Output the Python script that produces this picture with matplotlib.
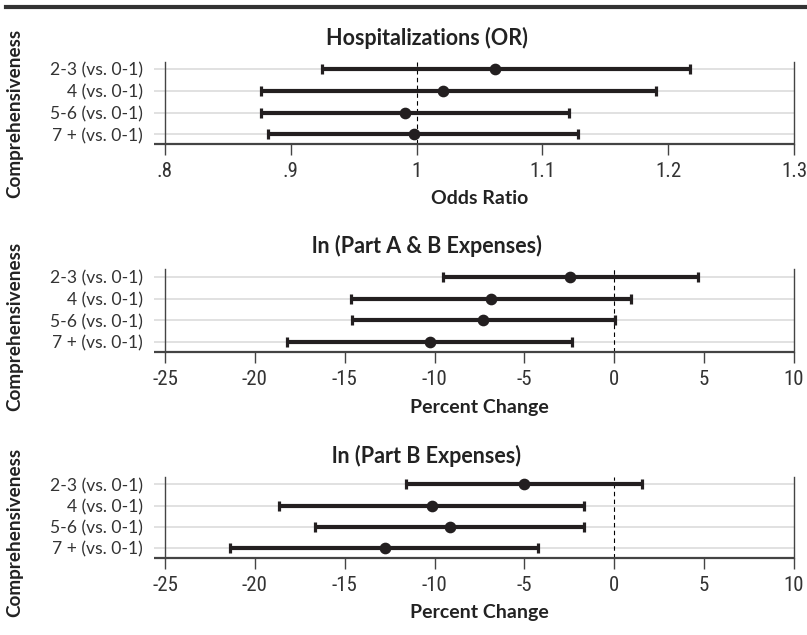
import matplotlib
matplotlib.use("Agg")
import matplotlib.pyplot as plt
from matplotlib import font_manager
from matplotlib.lines import Line2D
import numpy as np

# categories, top to bottom
categories = ["2-3 (vs. 0-1)", "4 (vs. 0-1)", "5-6 (vs. 0-1)", "7 + (vs. 0-1)"]

# Hospitalizations (odds ratio)
hosp_est = [1.062, 1.021, 0.991, 0.998]
hosp_lo = [0.925, 0.876, 0.876, 0.882]
hosp_hi = [1.217, 1.190, 1.121, 1.128]

# ln(Part A & B expenses), percent change
ab_est = [-2.45, -6.84, -7.29, -10.25]
ab_lo = [-9.53, -14.63, -14.60, -18.23]
ab_hi = [4.66, 0.95, 0.02, -2.33]

# ln(Part B expenses), percent change
b_est = [-5.00, -10.16, -9.14, -12.76]
b_lo = [-11.59, -18.64, -16.65, -21.37]
b_hi = [1.56, -1.67, -1.70, -4.23]

or_ticks = [0.8, 0.9, 1.0, 1.1, 1.2, 1.3]
or_ticklabels = [".8", ".9", "1", "1.1", "1.2", "1.3"]
pct_ticks = [-25, -20, -15, -10, -5, 0, 5, 10]
pct_ticklabels = ["-25", "-20", "-15", "-10", "-5", "0", "5", "10"]

names = {f.name for f in font_manager.fontManager.ttflist}
def pick(*cands):
    return next((c for c in cands if c in names), "DejaVu Sans")

bold_font = pick("Lato", "Open Sans", "Noto Sans")
label_font = pick("Lato", "Open Sans", "Noto Sans")
tick_font = pick("Liberation Sans Narrow", "Roboto Condensed", "Lato")

W, H = 807, 635
fig = plt.figure(figsize=(W / 100, H / 100), dpi=100)

panels = [
    # title, xlabel, est, lo, hi, ref line, ticks, ticklabels, top px, bottom px, title y, ylabel y
    ("Hospitalizations (OR)", "Odds Ratio", hosp_est, hosp_lo, hosp_hi, 1.0,
     or_ticks, or_ticklabels, 61.5, 144, 38, 113),
    ("ln (Part A & B Expenses)", "Percent Change", ab_est, ab_lo, ab_hi, 0.0,
     pct_ticks, pct_ticklabels, 269, 352, 246, 326),
    ("ln (Part B Expenses)", "Percent Change", b_est, b_lo, b_hi, 0.0,
     pct_ticks, pct_ticklabels, 477, 557.7, 455.5, 532),
]

dark = "#231f20"
axis_c = "#444444"
grid_c = "#d9d9d9"
ypos = np.arange(len(categories), 0, -1)

for (title, xlab, est, lo, hi, ref, ticks, tlabels, top, bot, ty, ly) in panels:
    h_px = bot - top
    ax = fig.add_axes([165 / W, 1 - bot / H, 629 / W, h_px / H])
    est = np.array(est); lo = np.array(lo); hi = np.array(hi)

    ax.axvline(ref, color="black", lw=0.8, ls=(0, (4, 3)), zorder=1.5)
    ax.errorbar(est, ypos, xerr=[est - lo, hi - est], fmt="o", color=dark,
                ms=7.4, elinewidth=3, capsize=3.6, capthick=2.3, zorder=3)

    ax.set_xlim(ticks[0], ticks[-1])
    ax.set_ylim(0.56, 4.35)
    ax.set_xticks(ticks)
    ax.set_xticklabels(tlabels, fontfamily=tick_font, fontsize=15, color="#333333")
    ax.set_yticks(ypos)
    ax.set_yticklabels(categories, fontfamily=label_font, fontsize=12.6, color="#333333")

    ax.grid(axis="y", color=grid_c, lw=1.1)
    ax.set_axisbelow(True)
    ax.tick_params(axis="y", length=8, width=1.1, color=grid_c, pad=8)
    ax.tick_params(axis="x", length=8, width=1.0, color=axis_c, pad=5)

    for s in ["top", "bottom"]:
        ax.spines[s].set_visible(False)
    for s in ["left", "right"]:
        ax.spines[s].set_color(axis_c)
        ax.spines[s].set_linewidth(1.0)
    ax.plot([-11 / 629, 1], [0, 0], transform=ax.transAxes, clip_on=False,
            color=axis_c, lw=1.6, solid_capstyle="butt", zorder=4)

    ax.set_xlabel(xlab, fontfamily=bold_font, fontweight="bold", fontsize=14,
                  color="#222222", va="center")
    ax.xaxis.set_label_coords(0.5, -55 / h_px)

    fig.text(427 / W, 1 - ty / H, title, ha="center", va="center",
             fontfamily=bold_font, fontweight="bold", fontsize=15.5, color="#222222")
    fig.text(15 / W, 1 - ly / H, "Comprehensiveness", rotation=90, ha="center",
             va="center", fontfamily=bold_font, fontweight="bold", fontsize=13.6,
             color="#222222")

fig.add_artist(Line2D([6 / W, 1], [1 - 7 / H, 1 - 7 / H], lw=3, color="#333333"))

fig.savefig("out.png", dpi=100)
